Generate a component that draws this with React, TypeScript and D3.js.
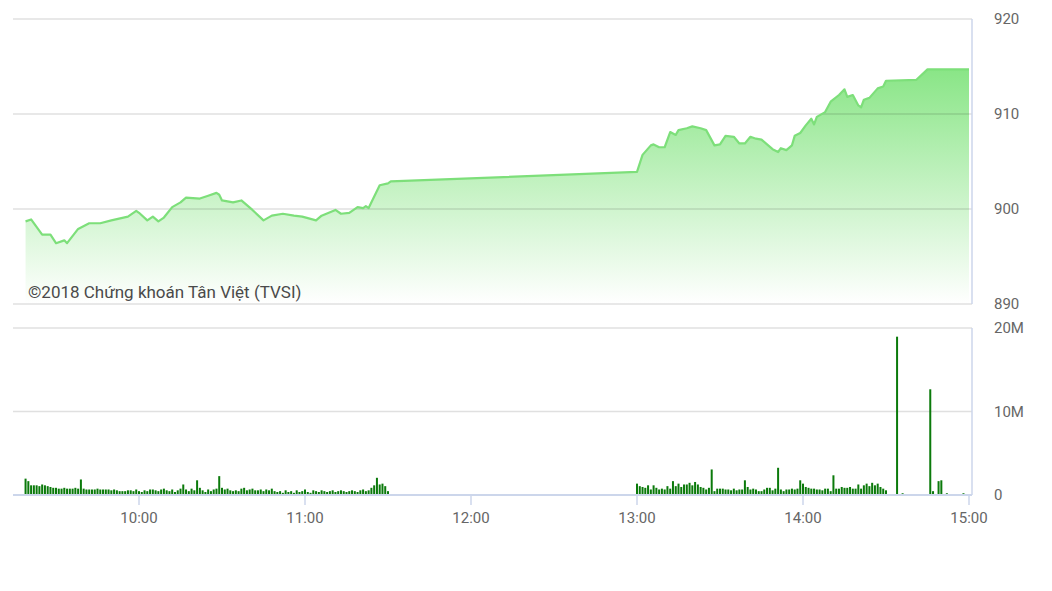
import React from "react";
import * as d3 from "d3";

// ---------- DATA ----------
const priceTimes = [
  "9:19","9:21","9:25","9:28","9:30","9:33","9:34","9:38","9:42","9:46","9:50","9:56","9:59",
  "10:00","10:03","10:05","10:07","10:09","10:12","10:15","10:17","10:22","10:25","10:28","10:29",
  "10:30","10:34","10:37","10:39","10:41","10:45","10:48","10:52","10:56","10:59",
  "11:04","11:06","11:11","11:13","11:16","11:19","11:21","11:22","11:23","11:27","11:30","11:31",
  "13:00","13:02","13:05","13:06","13:08","13:10","13:12","13:14","13:15","13:18","13:20","13:23",
  "13:25","13:28","13:30","13:32","13:35","13:37","13:39","13:41","13:43","13:45","13:47","13:49",
  "13:51","13:52","13:54","13:56","13:57","13:59","14:01","14:03","14:04","14:05","14:08","14:10",
  "14:13","14:15","14:16","14:18","14:20","14:21","14:22","14:24","14:27","14:29","14:30","14:41",
  "14:45","15:00"
];
const priceValues = [
  898.7,898.9,897.3,897.3,896.4,896.7,896.4,897.9,898.5,898.5,898.8,899.2,899.8,
  899.6,898.8,899.2,898.7,899.1,900.2,900.7,901.2,901.1,901.4,901.7,901.5,
  900.9,900.7,900.9,900.4,899.9,898.8,899.3,899.5,899.3,899.2,
  898.8,899.3,899.9,899.5,899.6,900.2,900.1,900.3,900.1,902.5,902.7,902.9,
  903.9,905.7,906.7,906.8,906.5,906.5,908.1,907.8,908.3,908.5,908.7,908.5,
  908.3,906.7,906.8,907.7,907.6,906.9,906.9,907.6,907.4,907.3,906.8,906.3,
  906.0,906.4,906.2,906.7,907.7,908.0,908.8,909.5,908.9,909.7,910.2,911.3,
  912.0,912.6,911.8,912.0,910.9,910.7,911.5,911.7,912.7,912.9,913.5,913.6,
  914.7,914.7
];

// volume in millions of shares, one bar per minute
const morningStart = "9:19";
const morningVolumes = [
  1.9,1.6,1.1,1.1,1.1,1.0,1.2,1.1,1.0,0.9,0.8,0.8,0.7,0.7,0.8,0.7,0.7,0.7,0.8,0.7,
  1.8,
  0.7,0.6,0.6,0.6,0.6,0.7,0.6,0.6,0.6,0.6,0.5,0.6,0.5,0.4,0.4,0.4,0.5,0.5,0.4,0.6,
  0.4,0.3,0.5,0.4,0.6,0.6,0.5,0.4,0.6,0.7,0.5,0.4,0.6,0.3,0.5,0.7,
  1.2,
  0.6,0.4,0.7,0.5,
  1.7,
  0.8,0.5,0.3,0.6,0.4,0.6,0.7,
  2.2,
  0.8,0.6,0.7,0.5,0.4,0.5,0.4,0.7,0.8,0.5,0.6,0.7,0.5,0.5,0.6,0.4,0.6,0.5,0.7,0.4,
  0.3,0.4,0.2,0.5,0.3,0.4,0.2,0.5,0.3,0.4,0.6,0.3,0.2,0.5,0.4,0.3,0.5,0.4,0.3,0.4,
  0.5,0.3,0.4,0.5,0.4,0.3,0.4,0.5,0.4,0.3,0.5,0.6,0.4,0.5,0.8,1.1,
  2.0,1.2,1.3,1.0,0.4
];
const afternoonStart = "13:00";
const afternoonVolumes = [
  1.3,1.0,0.9,0.8,1.1,0.6,1.1,0.8,0.6,0.7,0.6,1.0,0.7,
  1.6,
  1.0,1.3,0.9,1.2,1.2,1.4,1.1,1.5,1.2,0.9,0.8,0.6,0.8,
  3.0,
  0.4,0.7,0.7,0.7,0.6,0.6,0.5,0.7,0.5,0.6,0.6,
  1.7,
  0.9,0.6,0.7,0.6,0.4,0.4,0.6,0.8,0.8,0.5,0.7,
  3.2,
  0.6,0.4,0.6,0.6,0.7,0.6,0.7,
  1.7,
  1.3,0.9,0.8,0.7,0.7,0.6,0.6,0.5,0.7,0.7,0.4,
  2.3,
  0.7,0.7,0.9,0.8,0.8,0.9,0.7,0.7,1.2,0.7,1.1,1.3,1.0,1.4,1.1,1.3,0.9,0.7,0.5
];
const lateTimes = ["14:34","14:36","14:46","14:47","14:49","14:50","14:52","14:58"];
const lateVolumes = [18.9,0.15,12.6,0.4,1.6,1.7,0.15,0.15];

const xTickLabels = ["10:00","11:00","12:00","13:00","14:00","15:00"];
const priceTicks = [890, 900, 910, 920];
const volumeTicks = [0, 10, 20];
const volumeTickLabels = ["0", "10M", "20M"];
const watermark = "©2018 Chứng khoán Tân Việt (TVSI)";

// ---------- HELPERS ----------
const toMin = (s: string) => {
  const [h, m] = s.split(":").map(Number);
  return h * 60 + m;
};

export default function App() {
  const W = 1052, H = 591;
  const plotLeft = 13, plotRight = 972;
  const priceTop = 19, priceBottom = 304;
  const volTop = 328, volBottom = 495;

  const x = d3.scaleLinear().domain([toMin("10:00"), toMin("15:00")]).range([139, 969]);
  const yP = d3.scaleLinear().domain([890, 920]).range([priceBottom, priceTop]);
  const yV = d3.scaleLinear().domain([0, 20]).range([volBottom, volTop]);

  const pricePts = priceTimes.map((t, i) => ({ t: toMin(t), v: priceValues[i] }));
  const line = d3.line<{ t: number; v: number }>().x(d => x(d.t)).y(d => yP(d.v));
  const area = d3.area<{ t: number; v: number }>().x(d => x(d.t)).y0(priceBottom).y1(d => yP(d.v));

  const vols: { t: number; v: number }[] = [];
  const ms = toMin(morningStart);
  morningVolumes.forEach((v, i) => vols.push({ t: ms + i, v }));
  const as = toMin(afternoonStart);
  afternoonVolumes.forEach((v, i) => vols.push({ t: as + i, v }));
  lateTimes.forEach((t, i) => vols.push({ t: toMin(t), v: lateVolumes[i] }));

  const font = "Roboto, sans-serif";
  const labelColor = "#666666";
  const axisColor = "#ccd6eb";

  return (
    <svg width={W} height={H} style={{ position: "absolute", left: 0, top: 0, background: "#fff" }}>
      <defs>
        <linearGradient id="pf" gradientUnits="userSpaceOnUse" x1="0" y1={yP(915)} x2="0" y2={priceBottom}>
          <stop offset="0" stopColor="#88e585" />
          <stop offset="1" stopColor="#ffffff" />
        </linearGradient>
      </defs>

      {/* price panel */}
      <path d={area(pricePts) || ""} fill="url(#pf)" />
      {priceTicks.map(p => (
        <line key={p} x1={plotLeft} x2={plotRight} y1={yP(p)} y2={yP(p)} stroke="rgba(0,0,0,0.12)" strokeWidth={1.5} />
      ))}
      <line x1={plotRight} x2={plotRight} y1={priceTop} y2={priceBottom} stroke={axisColor} strokeWidth={1.5} />
      <path d={line(pricePts) || ""} fill="none" stroke="#7ddf7a" strokeWidth={2.2} strokeLinejoin="round" />
      {priceTicks.map(p => (
        <text key={p} x={994} y={yP(p)} dy="0.35em" fontFamily={font} fontSize={15} fill={labelColor}>{p}</text>
      ))}
      <text x={28} y={298} fontFamily={font} fontSize={17} fill="#4a4a4a">{watermark}</text>

      {/* volume panel */}
      {volumeTicks.filter(v => v > 0).map(v => (
        <line key={v} x1={plotLeft} x2={plotRight} y1={yV(v)} y2={yV(v)} stroke="#e0e0e0" strokeWidth={1.5} />
      ))}
      <line x1={plotRight} x2={plotRight} y1={volTop} y2={volBottom} stroke={axisColor} strokeWidth={1.5} />
      {vols.map((d, i) => (
        <rect key={i} x={x(d.t) - 1} y={yV(d.v) - 0.5} width={2} height={volBottom - yV(d.v) + 0.5} fill="#0b7a0b" />
      ))}
      <line x1={plotLeft} x2={plotRight} y1={volBottom} y2={volBottom} stroke={axisColor} strokeWidth={2} />
      {volumeTicks.map((v, i) => (
        <text key={v} x={994} y={yV(v)} dy="0.35em" fontFamily={font} fontSize={15} fill={labelColor}>{volumeTickLabels[i]}</text>
      ))}

      {/* x axis */}
      {xTickLabels.map(l => (
        <g key={l}>
          <line x1={x(toMin(l))} x2={x(toMin(l))} y1={volBottom} y2={volBottom + 10} stroke={axisColor} strokeWidth={1.5} />
          <text x={x(toMin(l))} y={518} dy="0.35em" textAnchor="middle" fontFamily={font} fontSize={15} fill={labelColor}>{l}</text>
        </g>
      ))}
    </svg>
  );
}
